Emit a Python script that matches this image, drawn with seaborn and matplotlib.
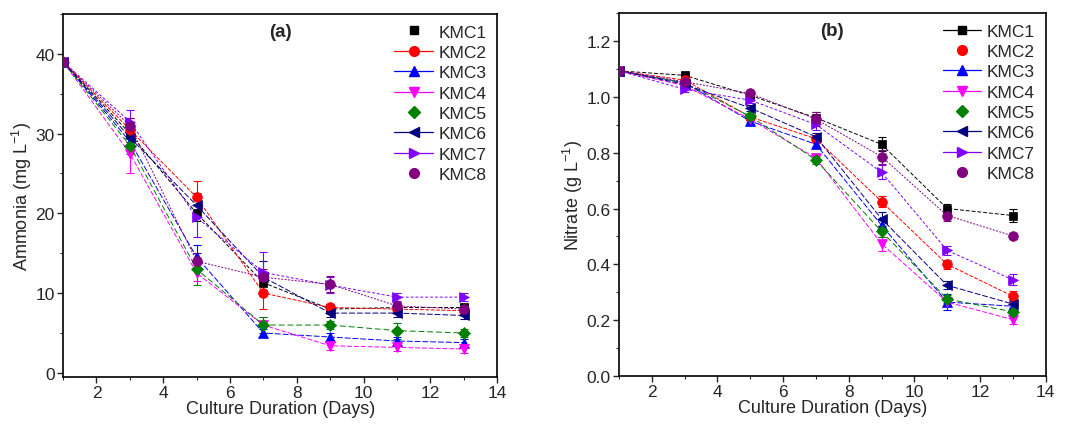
import numpy as np
import pandas as pd
import matplotlib
matplotlib.use("Agg")
import matplotlib.pyplot as plt
from matplotlib.lines import Line2D
from matplotlib.ticker import MultipleLocator, FormatStrFormatter
import seaborn as sns

days = [1, 3, 5, 7, 9, 11, 13]
series = ["KMC1", "KMC2", "KMC3", "KMC4", "KMC5", "KMC6", "KMC7", "KMC8"]

# Ammonia (mg L-1)
amm_kmc1 = [39, 30.0, 20.0, 11.3, 8.0, 8.2, 8.2]
amm_kmc2 = [39, 30.5, 22.0, 10.0, 8.2, 8.0, 7.8]
amm_kmc3 = [39, 29.0, 14.5, 5.0, 4.5, 4.0, 3.8]
amm_kmc4 = [39, 27.5, 12.5, 6.0, 3.4, 3.2, 3.0]
amm_kmc5 = [39, 28.5, 13.0, 6.0, 6.0, 5.3, 5.0]
amm_kmc6 = [39, 29.5, 21.0, 12.0, 7.5, 7.5, 7.2]
amm_kmc7 = [39, 31.5, 19.5, 12.6, 11.0, 9.5, 9.5]
amm_kmc8 = [39, 31.0, 14.0, 12.0, 11.1, 8.4, 8.0]
amm_err1 = [0.3, 1.0, 1.0, 1.0, 0.5, 0.5, 0.5]
amm_err2 = [0.3, 1.5, 2.0, 2.0, 0.5, 0.5, 0.5]
amm_err3 = [0.3, 1.0, 1.5, 0.5, 0.5, 0.5, 0.5]
amm_err4 = [0.3, 2.5, 1.0, 1.0, 0.5, 0.5, 0.5]
amm_err5 = [0.3, 1.0, 2.0, 1.0, 0.5, 1.0, 0.5]
amm_err6 = [0.3, 1.0, 1.5, 2.0, 0.5, 0.5, 0.5]
amm_err7 = [0.3, 1.5, 2.5, 2.5, 1.0, 0.5, 0.5]
amm_err8 = [0.3, 1.0, 1.0, 1.0, 1.0, 0.5, 0.5]

# Nitrate (g L-1)
nit_kmc1 = [1.093, 1.077, 1.005, 0.925, 0.830, 0.600, 0.575]
nit_kmc2 = [1.093, 1.060, 0.928, 0.850, 0.625, 0.400, 0.286]
nit_kmc3 = [1.093, 1.050, 0.913, 0.830, 0.540, 0.265, 0.250]
nit_kmc4 = [1.093, 1.040, 0.920, 0.780, 0.474, 0.265, 0.202]
nit_kmc5 = [1.093, 1.050, 0.930, 0.774, 0.518, 0.276, 0.230]
nit_kmc6 = [1.093, 1.045, 0.960, 0.857, 0.563, 0.325, 0.258]
nit_kmc7 = [1.093, 1.027, 0.988, 0.901, 0.730, 0.450, 0.345]
nit_kmc8 = [1.093, 1.054, 1.012, 0.920, 0.786, 0.575, 0.502]
nit_err1 = [0.005, 0.010, 0.010, 0.020, 0.025, 0.015, 0.025]
nit_err2 = [0.005, 0.010, 0.010, 0.015, 0.020, 0.015, 0.020]
nit_err3 = [0.005, 0.010, 0.010, 0.015, 0.020, 0.030, 0.020]
nit_err4 = [0.005, 0.010, 0.010, 0.015, 0.025, 0.015, 0.015]
nit_err5 = [0.005, 0.010, 0.010, 0.015, 0.020, 0.015, 0.015]
nit_err6 = [0.005, 0.010, 0.010, 0.015, 0.025, 0.015, 0.015]
nit_err7 = [0.005, 0.010, 0.010, 0.020, 0.025, 0.015, 0.020]
nit_err8 = [0.005, 0.010, 0.010, 0.025, 0.025, 0.020, 0.010]

amm = [amm_kmc1, amm_kmc2, amm_kmc3, amm_kmc4, amm_kmc5, amm_kmc6, amm_kmc7, amm_kmc8]
amm_err = [amm_err1, amm_err2, amm_err3, amm_err4, amm_err5, amm_err6, amm_err7, amm_err8]
nit = [nit_kmc1, nit_kmc2, nit_kmc3, nit_kmc4, nit_kmc5, nit_kmc6, nit_kmc7, nit_kmc8]
nit_err = [nit_err1, nit_err2, nit_err3, nit_err4, nit_err5, nit_err6, nit_err7, nit_err8]

colors = ["#000000", "#FF0000", "#0000FF", "#FF00FF", "#008000", "#000080", "#8000FF", "#800080"]
markers = ["s", "o", "^", "v", "D", "<", ">", "o"]
msizes = [6, 7, 7, 7, 6, 7, 7, 7]
lstyles = [(0, (4, 2)), (0, (4, 1.5)), (0, (6, 2)), (0, (5, 2)), (0, (6, 3)), (0, (6, 2)), (0, (3, 2)), (0, (2, 1.5))]

sns.set_theme(style="white")
plt.rcParams["font.family"] = ["Liberation Sans", "DejaVu Sans"]
plt.rcParams["mathtext.fontset"] = "custom"
plt.rcParams["mathtext.rm"] = "Liberation Sans"
plt.rcParams["mathtext.it"] = "Liberation Sans"

fig = plt.figure(figsize=(10.88, 4.27), dpi=100)
ax1 = fig.add_axes([0.058, 0.115, 0.399, 0.850])
ax2 = fig.add_axes([0.569, 0.117, 0.392, 0.850])


def build_df(vals):
    rows = []
    for name, v in zip(series, vals):
        for d, y in zip(days, v):
            rows.append({"day": d, "value": y, "series": name})
    return pd.DataFrame(rows)


def draw(ax, vals, errs, ylim, major, minor, ylabel, tag, legend_nolines):
    df = build_df(vals)
    for i, name in enumerate(series):
        sub = df[df["series"] == name]
        sns.lineplot(data=sub, x="day", y="value", ax=ax, color=colors[i],
                     marker=markers[i], markersize=msizes[i], markeredgewidth=0.5,
                     markeredgecolor=colors[i], linewidth=0.7, linestyle=lstyles[i],
                     legend=False, zorder=3 + i * 0.01)
        ax.errorbar(days, vals[i], yerr=errs[i], fmt="none", ecolor=colors[i],
                    elinewidth=0.8, capsize=3, capthick=0.8, zorder=2)
    ax.set_xlim(1, 14)
    ax.set_ylim(*ylim)
    ax.xaxis.set_major_locator(MultipleLocator(2))
    ax.xaxis.set_minor_locator(MultipleLocator(1))
    ax.yaxis.set_major_locator(MultipleLocator(major))
    ax.yaxis.set_minor_locator(MultipleLocator(minor))
    ax.tick_params(axis="both", which="major", direction="out", length=4, width=1,
                   labelsize=12.5, bottom=True, left=True, top=False, right=False, pad=2)
    ax.tick_params(axis="both", which="minor", direction="out", length=2.5, width=0.8,
                   bottom=True, left=True, top=False, right=False)
    for s in ax.spines.values():
        s.set_color("black")
        s.set_linewidth(1.2)
    ax.set_xlabel("Culture Duration (Days)", fontsize=13, labelpad=0)
    ax.set_ylabel(ylabel, fontsize=13, labelpad=1)
    ax.text(0.5, 0.952, tag, transform=ax.transAxes, ha="center", va="center",
            fontsize=13.5, fontweight="bold")
    handles = []
    for i, name in enumerate(series):
        ls = "none" if i in legend_nolines else "-"
        handles.append(Line2D([], [], color=colors[i], marker=markers[i],
                              markersize=msizes[i], linestyle=ls, linewidth=0.9))
    ax.legend(handles, series, loc="upper right", frameon=False, fontsize=12.5,
              labelspacing=0.3, handlelength=2.2, handletextpad=0.35,
              borderaxespad=0.2, bbox_to_anchor=(1.0, 1.0))


draw(ax1, amm, amm_err, (-0.5, 45), 10, 5, "Ammonia (mg L$^{-1}$)", "(a)", [0, 4, 7])
draw(ax2, nit, nit_err, (0, 1.3), 0.2, 0.1, "Nitrate (g L$^{-1}$)", "(b)", [1, 4, 7])
ax2.yaxis.set_major_formatter(FormatStrFormatter("%.1f"))

fig.savefig("out.png", dpi=100, facecolor="white")
